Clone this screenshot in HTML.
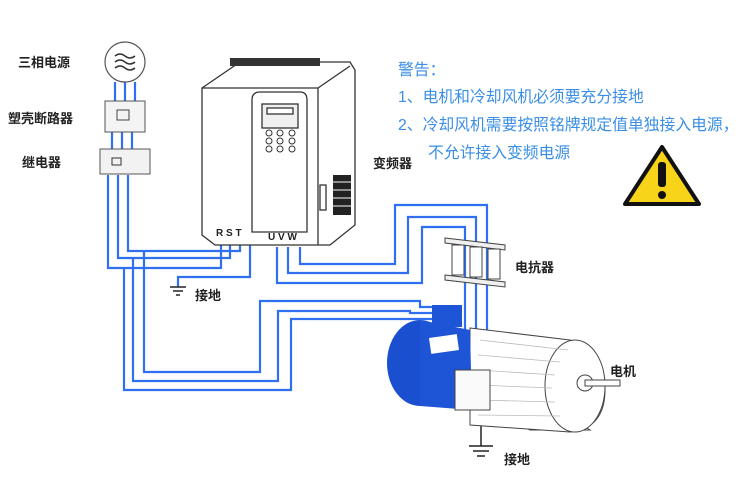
<!DOCTYPE html>
<html><head><meta charset="utf-8"><style>
html,body{margin:0;padding:0;background:#fff;}
svg{display:block;}
text{font-family:"Liberation Sans","Noto Sans CJK SC",sans-serif;}
.lb{font-size:13px;font-weight:bold;fill:#222;}
.wn{font-size:15.8px;fill:#3a8ee6;}
</style></head><body>
<svg width="750" height="500" viewBox="0 0 750 500" xmlns="http://www.w3.org/2000/svg">
<text class="lb" x="18" y="67">三相电源</text>
<text class="lb" x="8" y="123">塑壳断路器</text>
<text class="lb" x="22" y="167">继电器</text>
<text class="lb" x="373" y="168">变频器</text>
<text class="lb" x="195" y="300">接地</text>
<text class="lb" x="515" y="272">电抗器</text>
<text class="lb" x="610" y="376">电机</text>
<text class="lb" x="504" y="464">接地</text>
<text class="wn" x="398" y="75">警告：</text>
<text class="wn" x="398" y="102">1、电机和冷却风机必须要充分接地</text>
<text class="wn" x="398" y="130">2、冷却风机需要按照铭牌规定值单独接入电源，</text>
<text class="wn" x="428" y="158">不允许接入变频电源</text>
<polygon points="662,147 699,204 625,204" fill="#f7d31a" stroke="#111" stroke-width="4" stroke-linejoin="round"/>
<rect x="658" y="162" width="8" height="25" rx="3" fill="#111"/>
<circle cx="662" cy="195" r="4" fill="#111"/>

<g fill="none" stroke="#2f6ff0" stroke-width="2.2">
<polyline points="115,82 115,102"/><polyline points="125,82 125,102"/><polyline points="135,82 135,102"/>
<polyline points="112,132 112,150"/><polyline points="122,132 122,150"/><polyline points="132,132 132,150"/>
<polyline points="108,175 108,268 221,268 221,243"/>
<polyline points="118,175 118,258 230,258 230,243"/>
<polyline points="128,175 128,251 240,251 240,243"/>
<polyline points="250,243 250,277 178,277 178,287"/>
<polyline points="124,268 124,390 291,390 291,319 440,319"/>
<polyline points="133,258 133,381 278,381 278,311 410,311 410,313 440,313"/>
<polyline points="144,251 144,372 260,372 260,301 420,301 420,307 440,307"/>
<polyline points="277,247 277,283 422,283 422,227 465,227 465,370"/>
<polyline points="288,247 288,273 408,273 408,217 476,217 476,370"/>
<polyline points="300,247 300,264 395,264 395,205 487,205 487,370"/>
</g>
<g stroke="#222" stroke-width="1.5">
<line x1="170" y1="287" x2="186" y2="287"/><line x1="173" y1="291" x2="183" y2="291"/><line x1="176" y1="295" x2="180" y2="295"/>
<line x1="481" y1="425" x2="481" y2="446"/><line x1="469" y1="446" x2="493" y2="446"/><line x1="473" y1="451" x2="489" y2="451"/><line x1="477" y1="456" x2="485" y2="456"/>
</g>
<circle cx="125" cy="62" r="20" fill="#fff" stroke="#555" stroke-width="1.2"/>
<path d="M115 56 q5 -4 10 0 t10 0 M115 62 q5 -4 10 0 t10 0 M115 68 q5 -4 10 0 t10 0" fill="none" stroke="#333" stroke-width="1.5"/>
<rect x="105" y="101" width="40" height="31" fill="#f4f4f4" stroke="#555"/>
<rect x="117" y="110" width="12" height="10" fill="none" stroke="#444"/>
<rect x="100" y="149" width="50" height="25" fill="#f2f2f2" stroke="#555"/>
<rect x="112" y="158" width="9" height="7" fill="none" stroke="#333"/>
<g stroke="#333" stroke-width="1.3" fill="#fff">
<path d="M202 88 L240 62 L350 62 L355 70 L355 225 L330 245 L215 245 L202 235 Z"/>
<path d="M202 88 L318 88 L350 66" fill="none"/>
<line x1="318" y1="88" x2="318" y2="245"/>
<path d="M252 100 Q252 92 260 92 L300 92 Q307 92 307 100 L307 232 L252 232 Z" fill="#fff"/>
<rect x="262" y="104" width="36" height="24" fill="#f0f0f0"/>
<rect x="267" y="108" width="26" height="6" fill="#fff"/>
<rect x="320" y="185" width="6" height="25" fill="#fff"/>
</g>
<g fill="#fff" stroke="#333" stroke-width="1">
<circle cx="269" cy="133" r="3"/><circle cx="280" cy="133" r="3"/><circle cx="292" cy="133" r="3"/>
<circle cx="269" cy="141" r="3"/><circle cx="280" cy="141" r="3"/><circle cx="292" cy="141" r="3"/>
<circle cx="269" cy="149" r="3"/><circle cx="280" cy="149" r="3"/><circle cx="292" cy="149" r="3"/>
</g>
<rect x="333" y="175" width="18" height="40" fill="#222"/>
<g stroke="#fff" stroke-width="1"><line x1="333" y1="182" x2="351" y2="182"/><line x1="333" y1="190" x2="351" y2="190"/><line x1="333" y1="198" x2="351" y2="198"/><line x1="333" y1="206" x2="351" y2="206"/></g>
<rect x="230" y="58" width="90" height="8" fill="#333"/>
<text x="216" y="236" font-size="10" font-weight="bold" fill="#222">R S T</text>
<text x="268" y="240" font-size="10" font-weight="bold" fill="#222">U V W</text>
<g stroke="#444" stroke-width="1" fill="#f0f0f0">
<polygon points="445,238 505,245 505,250 445,243"/>
<polygon points="445,275 505,282 505,287 445,280"/>
<rect x="452" y="245" width="12" height="30" fill="#fff"/>
<rect x="470" y="247" width="12" height="30" fill="#fff"/>
<rect x="488" y="249" width="12" height="30" fill="#fff"/>
</g>
<g stroke="#444" stroke-width="1" fill="#fff">
<polygon points="470,400 530,430 590,430 545,400"/>
<path d="M470 328 L570 340 Q605 350 605 390 Q605 428 570 432 L470 425 Z"/>
<ellipse cx="575" cy="386" rx="30" ry="46"/>
<circle cx="585" cy="383" r="8"/>
<rect x="585" y="380" width="35" height="6"/>
</g>
<g stroke="#bbb" stroke-width="0.8">
<line x1="480" y1="340" x2="568" y2="350"/><line x1="478" y1="355" x2="560" y2="362"/><line x1="478" y1="370" x2="555" y2="375"/><line x1="478" y1="385" x2="552" y2="388"/><line x1="478" y1="400" x2="555" y2="402"/><line x1="478" y1="415" x2="560" y2="416"/>
</g>
<ellipse cx="420" cy="363" rx="33" ry="43" fill="#1a4fcf"/>
<path d="M420 320 L470 330 L472 410 L420 406 Z" fill="#1d55d6"/>
<rect x="432" y="305" width="30" height="22" fill="#1d55d6"/>
<rect x="430" y="336" width="28" height="16" fill="#fff" transform="rotate(-8 444 344)"/>
<rect x="455" y="370" width="35" height="40" fill="#fafafa" stroke="#444"/>
</svg>
</body></html>
